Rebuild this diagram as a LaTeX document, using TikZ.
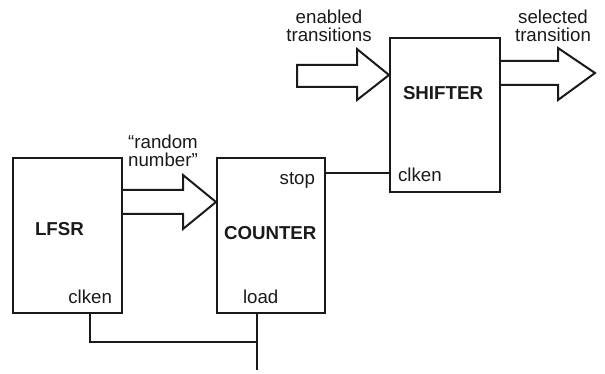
\documentclass[tikz,border=0pt]{standalone}
\usepackage{fontspec}
\setsansfont{Liberation Sans}
\usetikzlibrary{positioning, calc}
\definecolor{cink}{HTML}{1A1A1A}
\tikzset{
  every picture/.style={font=\sffamily\fontsize{18.7}{18}\selectfont, line width=2pt, draw=cink, text=cink},
  block/.style={draw=cink, fill=white, minimum width=#1, minimum height=155pt, inner sep=0pt},
  block/.default=109pt,
  blockname/.style={font=\sffamily\bfseries\fontsize{18.7}{18}\selectfont, anchor=base west, inner sep=0pt},
  port/.style={inner sep=0pt},
  caption/.style={align=center, inner sep=0pt},
  fat/.style={draw=cink, line width=2pt, line join=miter},
  wire/.style={draw=cink, line width=2.8pt},
  thinwire/.style={draw=cink, line width=2pt},
}

\begin{document}
\begin{tikzpicture}[x=1pt, y=-1pt]
  \useasboundingbox (0,0) rectangle (605,374);
  % blocks
  \node[block] (lfsr) at (67.5,235.5) {};
  \node[block=108pt] (counter) at (271,235.5) {};
  \node[block=110pt, minimum height=154pt] (shifter) at (445,115) {};
  \node[blockname] (lfsrname) at (34,236) {LFSR};
  \node[blockname] (countername) at (223,240) {COUNTER};
  \node[blockname] (shiftername) at (402,100) {SHIFTER};
  % port names
  \node[port, anchor=base east] (lfsrclk) at (113,303) {clken};
  \node[port, anchor=base west] (cntload) at (242,303) {load};
  \node[port, anchor=base east] (cntstop) at (316,185) {stop};
  \node[port, anchor=base west] (shclk) at (397,182) {clken};
  % fat arrows
  \draw[fat] (lfsr.east |- 0,190) -- (183,190) -- (183,175) -- (counter.west |- 0,202)
    -- (183,229) -- (183,214) -- (lfsr.east |- 0,214);
  \draw[fat] (297,65) -- (357,65) -- (357,49) -- (shifter.west |- 0,75)
    -- (357,100) -- (357,87) -- (297,87) -- cycle;
  \draw[fat] (shifter.east |- 0,61) -- (558,61) -- (558,48) -- (595,73)
    -- (558,100) -- (558,85) -- (shifter.east |- 0,85);
  \node[caption] (rnd) at (163,151) {“random\\number”};
  \node[caption] (enab) at (329,26) {enabled\\transitions};
  \node[caption] (sel) at (553,26) {selected\\transition};
  % wires
  \coordinate (join) at (257,342);
  \coordinate (out) at (257,370);
  \draw[thinwire] (counter.east |- 0,173) -- (shifter.west |- 0,173);
  \draw[wire] (lfsr.south -| 90,0) |- (join);
  \draw[wire] (counter.south -| join) -- (out);
\end{tikzpicture}
\end{document}
